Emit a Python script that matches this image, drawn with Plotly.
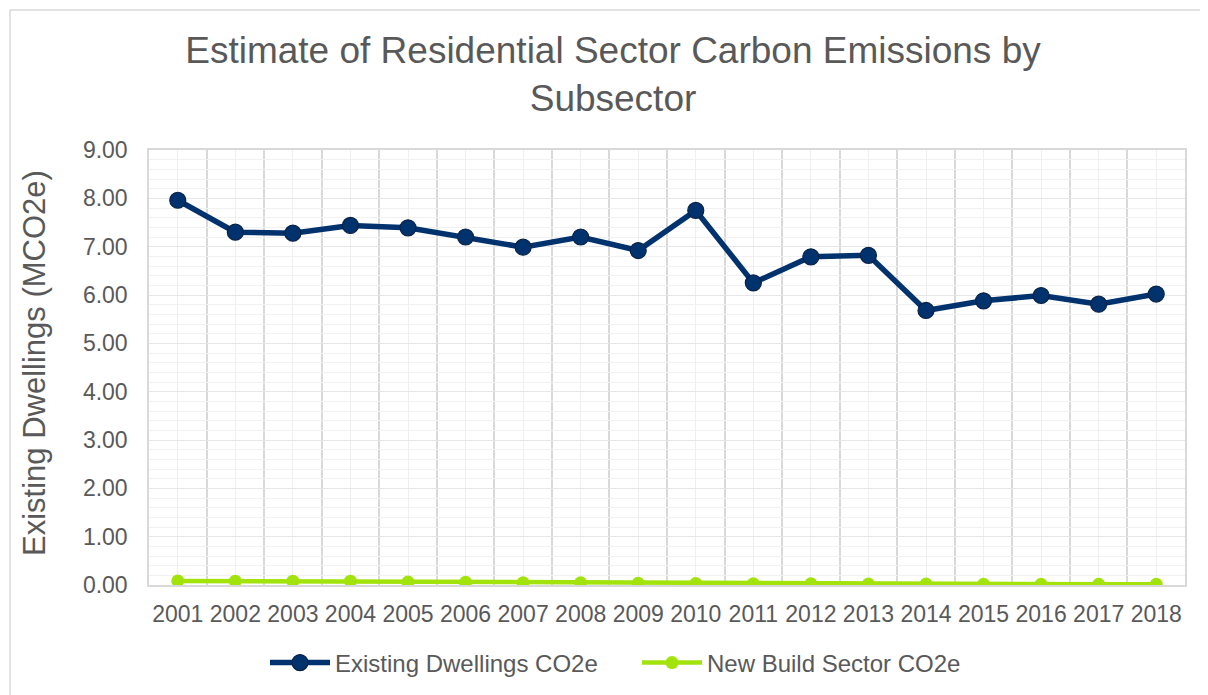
import plotly.graph_objects as go

years = list(range(2001, 2019))
existing_dwellings = [7.96, 7.30, 7.28, 7.44, 7.39, 7.20, 6.99, 7.20, 6.92, 7.75,
                      6.25, 6.79, 6.82, 5.68, 5.88, 5.99, 5.81, 6.02]
new_build = [0.085, 0.08, 0.08, 0.08, 0.06, 0.055, 0.045, 0.045, 0.035, 0.03,
             0.025, 0.025, 0.02, 0.02, 0.015, 0.015, 0.015, 0.015]

title_text = "Estimate of Residential Sector Carbon Emissions by<br>Subsector"
y_title = "Existing Dwellings (MCO2e)"
series_names = ["Existing Dwellings CO2e", "New Build Sector CO2e"]

FONT = "Liberation Sans, Arial, sans-serif"
GREY = "#595959"

fig = go.Figure()
fig.add_trace(go.Scatter(
    x=years, y=existing_dwellings, name=series_names[0], mode="lines+markers",
    line=dict(color="#00336E", width=5.5),
    marker=dict(size=16, color="#00336E", line=dict(color="#0A2145", width=1.2)),
))
fig.add_trace(go.Scatter(
    x=years, y=new_build, name=series_names[1], mode="lines+markers",
    line=dict(color="#A2E30C", width=4.5),
    marker=dict(size=13, color="#A2E30C"),
))

# page has an 8px body margin: positions below are reference pixels minus 8
OFF = 8
W, H = 1200, 687
ml, mr, mt, mb = 149 - OFF, 23, 150 - OFF, 110
pw, ph = W - ml - mr, H - mt - mb

fig.update_layout(
    width=W, height=H,
    margin=dict(l=ml, r=mr, t=mt, b=mb, autoexpand=False),
    paper_bgcolor="white", plot_bgcolor="white",
    font=dict(family=FONT, color=GREY),
    title=dict(text=title_text, x=(613 - OFF) / W, xanchor="center", xref="container",
               y=1 - 55 / H, yanchor="top", yref="container",
               font=dict(size=37, color=GREY, family=FONT)),
    showlegend=True,
    legend=dict(orientation="h", xref="container", yref="container",
                x=(637 - OFF) / W, xanchor="center", y=1 - (663 - OFF) / H, yanchor="middle",
                font=dict(size=24, color=GREY, family=FONT),
                itemwidth=60, entrywidth=297, entrywidthmode="pixels",
                bgcolor="rgba(0,0,0,0)"),
    xaxis=dict(
        range=[2000.5, 2018.5], tickmode="array", tickvals=years,
        ticktext=[str(y) for y in years],
        tickfont=dict(size=23, color=GREY, family=FONT),
        showgrid=True, gridcolor="#efefef", gridwidth=1,
        minor=dict(tickmode="linear", tick0=2000.5, dtick=1, showgrid=True,
                   gridcolor="#d9d9d9", gridwidth=1.5, ticks=""),
        ticks="", ticklabelstandoff=8, zeroline=False,
        showline=True, linecolor="#d9d9d9", linewidth=1.5, mirror=True,
        fixedrange=True,
    ),
    yaxis=dict(
        range=[0, 9], dtick=1, tickformat=".2f",
        tickfont=dict(size=23, color=GREY, family=FONT),
        showgrid=True, gridcolor="#e6e6e6", gridwidth=1,
        minor=dict(dtick=0.2, showgrid=True, gridcolor="#f1f1f1", gridwidth=1, ticks=""),
        ticks="", ticklabelstandoff=15, zeroline=False,
        showline=True, linecolor="#d9d9d9", linewidth=1.5, mirror=True,
        fixedrange=True,
    ),
)

fig.add_annotation(text=y_title, textangle=-90, xref="paper", yref="paper",
                   x=(34 - OFF - ml) / pw, y=(H - mb - (363 - OFF)) / ph, showarrow=False,
                   xanchor="center", yanchor="middle",
                   font=dict(size=31, color=GREY, family=FONT))

# outer chart border
fig.add_shape(type="rect", xref="paper", yref="paper",
              x0=(10 - OFF - ml) / pw, x1=(W + 20 - ml) / pw,
              y0=-(mb + 20) / ph, y1=1 + (mt - (10 - OFF)) / ph,
              line=dict(color="#d9d9d9", width=1.5), layer="below")

fig.write_html("out.html")
